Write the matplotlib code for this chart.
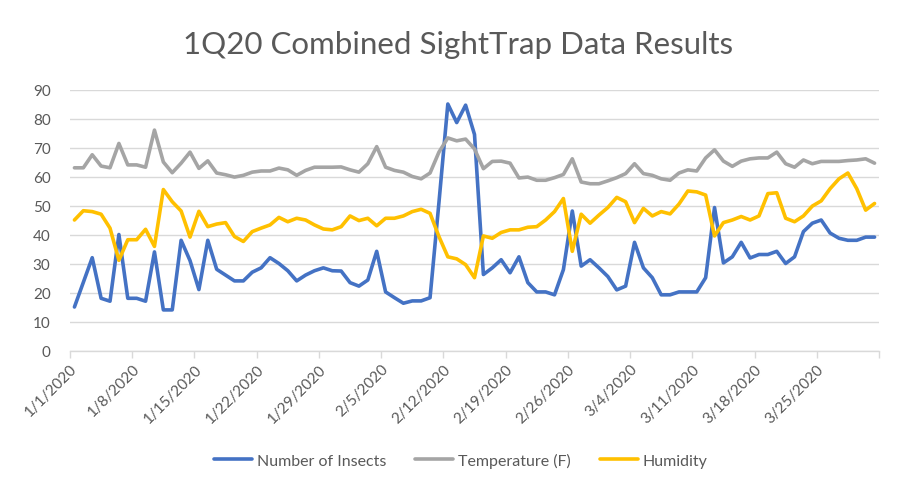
import matplotlib
matplotlib.use("Agg")
import matplotlib.pyplot as plt
import pandas as pd
import numpy as np

plt.rcParams['font.family'] = ['Lato', 'DejaVu Sans']

dates = pd.date_range("2020-01-01", "2020-03-31", freq="D")
tick_dates = pd.date_range("2020-01-01", "2020-03-25", freq="7D")
tick_labels = [f"{d.month}/{d.day}/{d.year}" for d in tick_dates]

insects = [15, 23.5, 32, 18, 17, 40, 18, 18, 17, 34, 14, 14, 38, 31, 21, 38,
           28, 26, 24, 24, 27, 28.5, 32, 30, 27.5, 24, 26, 27.5, 28.5, 27.5, 27.4,
           23.4, 22.2, 24.3, 34.2, 20.2, 18.2, 16.3, 17.1, 17.1, 18.2, 51, 85, 78.6, 84.6,
           74.5, 26.2, 28.5, 31.3, 26.8, 32.3, 23.4, 20.2, 20.2, 19.2, 27.9, 48.1, 29.1, 31.3,
           28.5, 25.5, 20.9, 22.2, 37.3, 28.5, 25.1, 19.2, 19.2, 20.2, 20.2, 20.2, 25.1, 49.3,
           30.2, 32.3, 37.3, 31.9, 33.1, 33.1, 34.2, 30, 32.3, 41, 43.9, 45, 40.5, 38.7,
           38, 38, 39.1, 39.1]

temperature = [63, 63, 67.5, 63.6, 63, 71.4, 64, 64, 63.2, 76, 65, 61.3, 64.6, 68.4, 62.8, 65.4,
               61.2, 60.6, 59.8, 60.4, 61.5, 61.9, 61.9, 62.9, 62.3, 60.4, 62.1, 63.2, 63.2, 63.2, 63.3,
               62.3, 61.5, 64.4, 70.3, 63.2, 62.1, 61.5, 60, 59.2, 61.2, 68.4, 73.3, 72.3, 72.9,
               69.5, 62.7, 65.2, 65.3, 64.6, 59.5, 59.8, 58.7, 58.7, 59.6, 60.7, 66.1, 58.1, 57.5,
               57.5, 58.5, 59.6, 61, 64.4, 61, 60.4, 59.2, 58.7, 61.2, 62.3, 61.9, 66.4, 69.2,
               65.3, 63.5, 65.3, 66.1, 66.4, 66.4, 68.4, 64.4, 63.2, 65.7, 64.4, 65.2, 65.2, 65.2,
               65.5, 65.7, 66.1, 64.6]

humidity = [45, 48.2, 47.9, 47, 42.2, 31.1, 38.2, 38.2, 41.8, 35.9, 55.5, 51.3, 48.1, 39.1, 48, 42.7,
            43.6, 44.1, 39.3, 37.6, 41, 42.2, 43.3, 45.9, 44.4, 45.6, 45, 43.3, 41.9, 41.6, 42.7,
            46.4, 44.8, 45.6, 43, 45.6, 45.6, 46.4, 47.9, 48.7, 47.3, 39.3, 32.3, 31.6, 29.6,
            25.1, 39.5, 38.7, 40.7, 41.6, 41.6, 42.5, 42.7, 45, 47.9, 52.4, 34.2, 47, 43.9,
            46.7, 49.3, 52.8, 51.3, 44.1, 49, 46.4, 47.9, 47.1, 50.5, 55, 54.7, 53.6, 39.5,
            44.1, 45, 46.2, 45, 46.4, 54.1, 54.4, 45.6, 44.4, 46.4, 49.8, 51.6, 55.8, 59.2,
            61.2, 55.8, 48.4, 50.7]

series_names = ["Number of Insects", "Temperature (F)", "Humidity"]
colors = ["#4472C4", "#A5A5A5", "#FFC000"]

fig = plt.figure(figsize=(8.98, 4.81), dpi=100)
ax = fig.add_axes([70 / 898, 1 - 351.5 / 481, (879 - 70) / 898, (351.5 - 90.5) / 481])

x = np.arange(len(dates))
for vals, name, c in zip([insects, temperature, humidity], series_names, colors):
    ax.plot(x, vals, color=c, lw=2.6, label=name, solid_joinstyle='round', solid_capstyle='round')

ax.set_xlim(-0.5, len(dates) - 0.5)
ax.set_ylim(0, 90)
ax.set_yticks(np.arange(0, 91, 10))
ax.yaxis.grid(True, color="#D9D9D9", lw=1)
ax.set_axisbelow(True)
for s in ["top", "right", "left"]:
    ax.spines[s].set_visible(False)
ax.spines["bottom"].set_color("#D9D9D9")
ax.spines["bottom"].set_linewidth(1)
ax.tick_params(axis="y", length=0, labelsize=11, labelcolor="#595959", pad=14)

tick_pos = [-0.5 + 7 * k for k in range(len(tick_labels) + 1)]
ax.set_xticks(tick_pos)
ax.set_xticklabels(tick_labels + [""], rotation=45, ha="right", rotation_mode="anchor",
                   fontsize=11, color="#595959")
ax.tick_params(axis="x", length=5, color="#D9D9D9", width=1, pad=3)

fig.suptitle("1Q20 Combined SightTrap Data Results", x=0.51, y=0.935, fontsize=22.5,
             color="#595959")

leg = fig.legend(loc="center", bbox_to_anchor=(0.513, 1 - 461 / 481),
                 ncol=3, frameon=False, fontsize=11.5, handlelength=2.4, columnspacing=1.8,
                 handletextpad=0.3)
for t in leg.get_texts():
    t.set_color("#595959")

fig.savefig("out.png", dpi=100)
